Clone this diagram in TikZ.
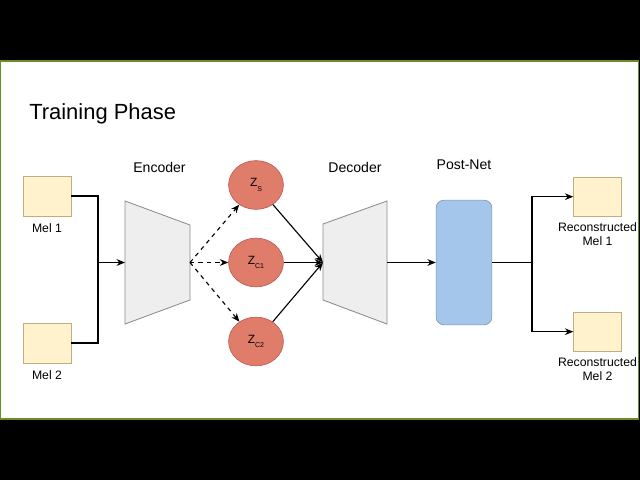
\documentclass[tikz,border=0pt]{standalone}
\usepackage{fontspec}
\setmainfont{Liberation Sans}
\usetikzlibrary{arrows.meta,shapes.geometric}
\definecolor{melfill}{HTML}{FFF2CC}
\definecolor{meldraw}{HTML}{BFAE80}
\definecolor{zfill}{HTML}{E07D6A}
\definecolor{zdraw}{HTML}{B85450}
\definecolor{trapfill}{HTML}{EEEEEE}
\definecolor{trapdraw}{HTML}{8C8C8C}
\definecolor{postfill}{HTML}{A4C6EA}
\definecolor{postdraw}{HTML}{7D93B4}
\definecolor{frame}{HTML}{6B8E23}
\newcommand{\zlab}[1]{Z\raisebox{-3.2pt}{\fontsize{5}{6}\selectfont #1}}

\begin{document}
\begin{tikzpicture}[x=0.025cm, y=-0.025cm,
    melbox/.style={draw=meldraw, fill=melfill, minimum width=34pt, minimum height=28.3pt, inner sep=0pt},
    latent/.style={ellipse, draw=zdraw, fill=zfill, minimum width=39pt, minimum height=34.7pt, inner sep=0pt, font=\fontsize{8.5}{9}\selectfont},
    trap/.style={draw=trapdraw, fill=trapfill, line width=0.6pt},
    postnet/.style={draw=postdraw, fill=postfill, rounded corners=5.5pt, minimum width=39.7pt, minimum height=88.6pt, inner sep=0pt},
    lbl/.style={font=\fontsize{8.7}{9.9}\selectfont, align=center, inner sep=0pt, anchor=base},
    head/.style={font=\fontsize{10}{12}\selectfont, inner sep=0pt, anchor=base},
    conn/.style={line width=0.8pt},
    tip/.style={conn, -{Stealth[length=6pt, width=4.8pt]}}
]
    % Background and frame
    \useasboundingbox (0,0) rectangle (640,480);
    \fill[black] (0,0) rectangle (640,480);
    \fill[white] (0,61) rectangle (639,419);
    \draw[frame, line width=1pt] (0.5,61) rectangle (638.5,419);

    % Title
    \node[font=\fontsize{15.6}{18}\selectfont, inner sep=0pt, anchor=base west] (title) at (29,119) {Training Phase};

    % Input mels
    \node[melbox] (mel1) at (47,196) {};
    \node[melbox] (mel2) at (47,343) {};
    \node[lbl] (mel1lbl) at (47,232) {Mel 1};
    \node[lbl] (mel2lbl) at (47,379) {Mel 2};

    % Encoder and decoder
    \draw[trap] (125,201) -- (190,225) -- (190,300) -- (125,324) -- cycle;
    \draw[trap] (323,224) -- (387,201) -- (387,324) -- (323,300) -- cycle;
    \node[head] (enclbl) at (159.5,172) {Encoder};
    \node[head] (declbl) at (355,172) {Decoder};
    \coordinate (join) at (98,262.5);
    \coordinate (enc-in) at (125,262.5);
    \coordinate (enc-out) at (190,262.5);
    \coordinate (dec-in) at (323,262.5);
    \coordinate (dec-out) at (387,262.5);

    % Latent codes
    \node[latent] (zs) at (256,185) {\zlab{S}};
    \node[latent] (zc1) at (256,262.5) {\zlab{C1}};
    \node[latent] (zc2) at (256,341.5) {\zlab{C2}};

    % Post-Net
    \node[postnet] (post) at (464,262.5) {};
    \node[head] (postlbl) at (464,169) {Post-Net};
    \coordinate (split) at (532,262.5);

    % Outputs
    \node[melbox] (rec1) at (597.5,196.7) {};
    \node[melbox] (rec2) at (597.5,331.7) {};
    \node[lbl] (rec1lbl) at (597.5,245.7) {Reconstructed\\Mel 1};
    \node[lbl] (rec2lbl) at (597.5,380.7) {Reconstructed\\Mel 2};

    % Connectors
    \draw[conn] (mel1) -| (join) |- (mel2);
    \draw[tip] (join) -- (enc-in);
    \foreach \z in {zs,zc1,zc2} {
        \draw[tip, dashed] (enc-out) -- (\z);
        \draw[tip] (\z) -- (dec-in);
    }
    \draw[tip] (dec-out) -- (post);
    \draw[conn] (post) -- (split);
    \draw[tip] (split) |- (rec1);
    \draw[tip] (split) |- (rec2);
\end{tikzpicture}
\end{document}
